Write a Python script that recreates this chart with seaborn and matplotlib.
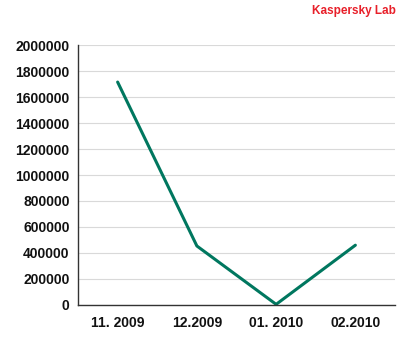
import matplotlib
matplotlib.use("Agg")
import matplotlib.pyplot as plt
import seaborn as sns
import pandas as pd
from matplotlib.ticker import FixedLocator, NullFormatter

months = ["11. 2009", "12.2009", "01. 2010", "02.2010"]
values = [1715000, 454000, 5000, 460000]
y_ticks = list(range(0, 2000001, 200000))

df = pd.DataFrame({"month": months, "value": values})

sns.set_theme(style="white")
plt.rcParams["font.family"] = ["Liberation Sans", "DejaVu Sans"]

fig = plt.figure(figsize=(4, 3.5), dpi=100)
ax = fig.add_axes([0.195, 0.1286, 0.7925, 0.7428])

pos = list(range(len(months)))
df["pos"] = pos
sns.lineplot(data=df, x="pos", y="value", ax=ax, color="#00775f", linewidth=2.2)

ax.set_xlim(-0.5, len(months) - 0.5)
ax.set_ylim(0, 2000000)
ax.set_yticks(y_ticks)
ax.set_yticklabels([str(v) for v in y_ticks], fontsize=10, fontweight="bold", color="#111111")
ax.yaxis.grid(True, color="#d9d9d9", linewidth=0.8)
ax.set_axisbelow(True)

# category labels centered, tick marks on category boundaries
ax.set_xticks(pos)
ax.set_xticklabels(months, fontsize=10, fontweight="bold", color="#111111")
ax.tick_params(axis="x", which="major", length=0, pad=8)
ax.xaxis.set_minor_locator(FixedLocator([p - 0.5 for p in pos] + [len(months) - 0.5]))
ax.xaxis.set_minor_formatter(NullFormatter())
ax.tick_params(axis="x", which="minor", length=6, width=1, color="#333333", direction="out")
ax.tick_params(axis="y", length=0, pad=6)

ax.set_xlabel("")
ax.set_ylabel("")
for side in ["top", "right"]:
    ax.spines[side].set_visible(False)
for side in ["left", "bottom"]:
    ax.spines[side].set_color("#333333")
    ax.spines[side].set_linewidth(1.0)

fig.text(0.99, 0.968, "Kaspersky Lab", ha="right", va="center",
         fontsize=8.5, fontweight="bold", color="#e8202a")

fig.savefig("out.png", dpi=100, facecolor="white")
